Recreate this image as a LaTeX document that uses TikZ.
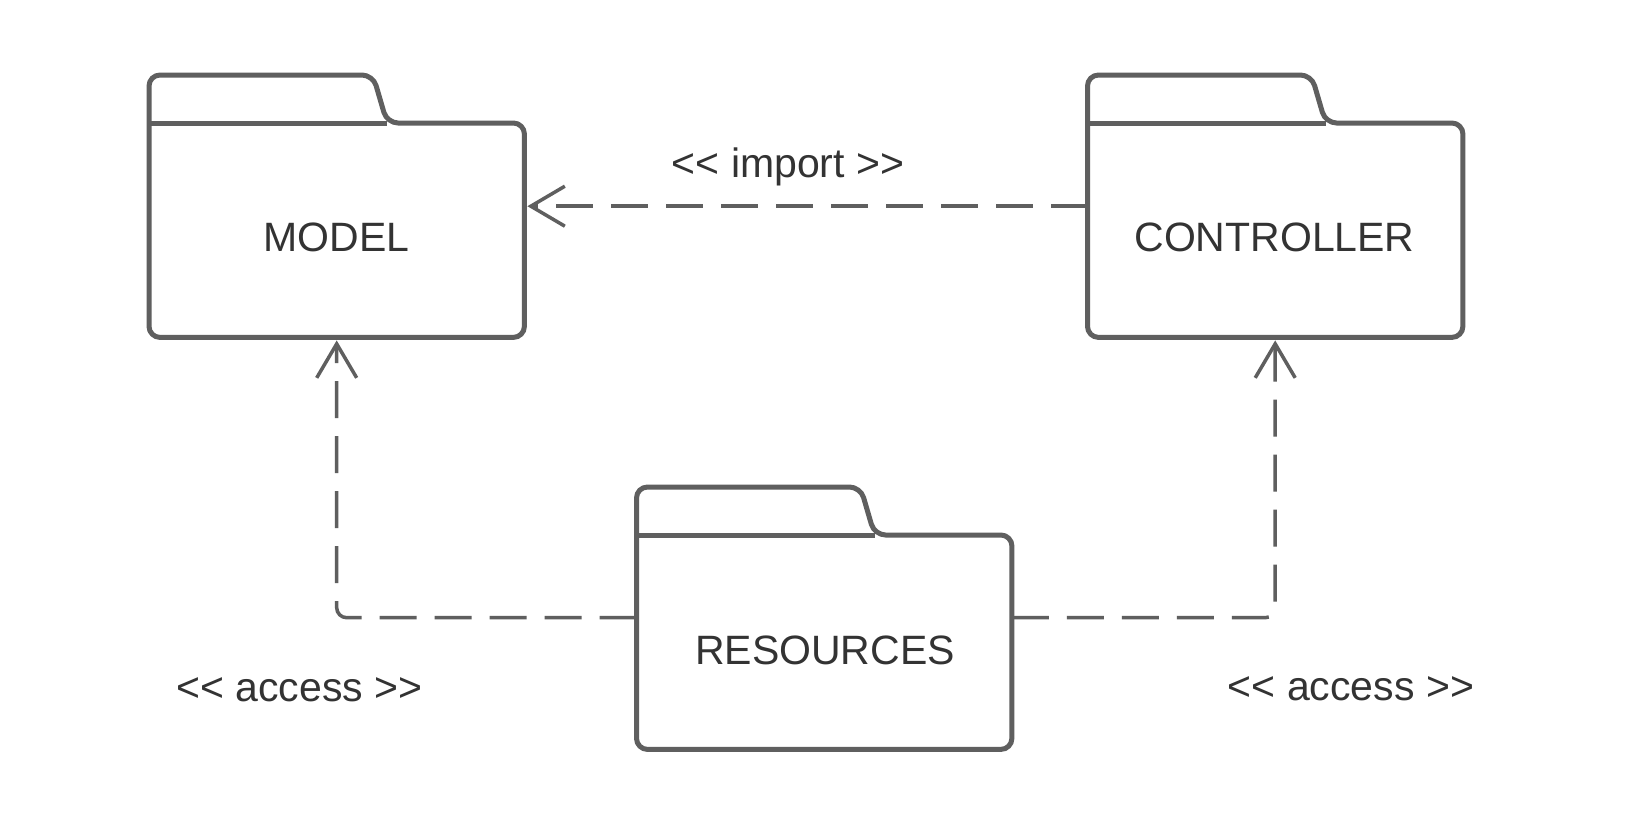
\documentclass[tikz,border=0pt]{standalone}
\usepackage{fontspec}
\newfontfamily\labfont{Liberation Sans}
\usetikzlibrary{arrows.meta}
\definecolor{edge}{HTML}{5F5F5F}
\definecolor{ink}{HTML}{333333}
\newcommand\drawfolder[1]{%
  \draw[outline] ([xshift=-60pt]#1.north east) -- (#1.north east) -- (#1.south east)
    -- (#1.south west) -- ([yshift=48pt]#1.north west)
    -- ([xshift=224pt,yshift=48pt]#1.north west) -- ([xshift=238pt]#1.north west) -- cycle;
  \draw[edge, line width=5pt] (#1.north west) -- ([xshift=238pt]#1.north west);}
\begin{document}
\begin{tikzpicture}[x=1pt,y=-1pt,
  folder/.style={draw=none, minimum width=375pt, minimum height=214pt, inner sep=0pt, anchor=north west},
  outline/.style={draw=edge, line width=5pt, rounded corners=11pt, line join=round},
  dep/.style={draw=edge, line width=3.5pt, dash pattern=on 37pt off 18pt, rounded corners=10pt,
    shorten >=3pt, -{Straight Barb[length=34pt,width=40pt,line width=3.5pt]}},
  lbl/.style={text=ink, font=\labfont\fontsize{41}{49}\selectfont, anchor=base, inner sep=0pt}]
\useasboundingbox (0,0) rectangle (1650,825);
\fill[white] (0,0) rectangle (1650,825);
\node[folder] (model) at (149,123) {};
\node[folder] (controller) at (1087.5,123) {};
\node[folder] (resources) at (636.5,535) {};
\drawfolder{model}
\drawfolder{controller}
\drawfolder{resources}
\node[lbl] (modellbl) at (336.5,251.7) {MODEL};
\node[lbl] (controllerlbl) at (1274.5,251.7) {CONTROLLER};
\node[lbl] (resourceslbl) at (825,664) {RESOURCES};
\draw[dep] ([yshift=24pt]controller.west) -- ([yshift=24pt]model.east);
\draw[dep] ([yshift=24.5pt]resources.west) -| (model.south);
\draw[dep] ([yshift=24.5pt]resources.east) -| (controller.south);
\node[lbl] (importlbl) at (788,177) {<< import >>};
\node[lbl] (accessleft) at (299.3,701) {<< access >>};
\node[lbl] (accessright) at (1351,700) {<< access >>};
\end{tikzpicture}
\end{document}
